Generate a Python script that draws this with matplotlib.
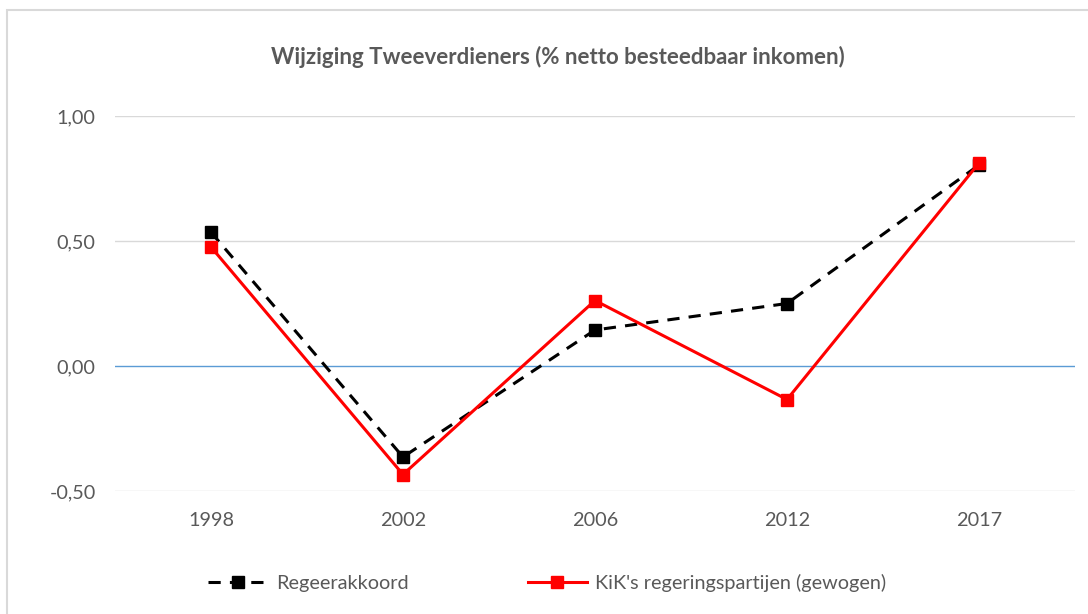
import matplotlib
matplotlib.use("Agg")
import matplotlib.pyplot as plt
from matplotlib.patches import Rectangle
from matplotlib.ticker import FuncFormatter

plt.rcParams['font.family'] = ['Lato', 'DejaVu Sans']

# data
years = ['1998', '2002', '2006', '2012', '2017']
regeerakkoord = [0.535, -0.364, 0.144, 0.250, 0.804]
kik_partijen = [0.476, -0.434, 0.262, -0.134, 0.812]
y_ticks = [-0.5, 0.0, 0.5, 1.0]

grey_text = '#595959'

fig = plt.figure(figsize=(10.88, 6.14), dpi=100)
# chart border (Excel style)
fig.patches.append(Rectangle((7 / 1088, -0.1), 1.2, 1 - 10 / 614 + 0.1,
                             transform=fig.transFigure, fill=False,
                             edgecolor='#d9d9d9', linewidth=1.5))

ax = fig.add_axes([115 / 1088, 1 - 491 / 614, 960 / 1088, 375 / 614])
x = list(range(len(years)))

ax.plot(x, regeerakkoord, color='black', linewidth=2.2, linestyle=(0, (4, 3)),
        marker='s', markersize=8.5, label='Regeerakkoord', zorder=3)
ax.plot(x, kik_partijen, color='#ff0000', linewidth=2.2,
        marker='s', markersize=8.5, label="KiK's regeringspartijen (gewogen)", zorder=4)

ax.set_xlim(-0.5, len(years) - 0.5)
ax.set_ylim(-0.5, 1.0)
ax.set_xticks(x)
ax.set_xticklabels(years)
ax.set_yticks(y_ticks)
ax.yaxis.set_major_formatter(FuncFormatter(lambda v, p: f'{v:.2f}'.replace('.', ',')))

for t in y_ticks:
    if t == 0:
        ax.axhline(t, color='#5b9bd5', linewidth=1, zorder=1)
    else:
        ax.axhline(t, color='#d9d9d9', linewidth=1, zorder=1)

for s in ax.spines.values():
    s.set_visible(False)
ax.tick_params(length=0, labelsize=14.3, colors=grey_text)
ax.tick_params(axis='y', pad=14)
ax.tick_params(axis='x', pad=15)

fig.text(0.513, 1 - 57 / 614, 'Wijziging Tweeverdieners (% netto besteedbaar inkomen)',
         ha='center', va='center', fontsize=16, fontweight='bold', color=grey_text)

leg = fig.legend(loc='center', bbox_to_anchor=(0.503, 1 - 583 / 614), ncol=2,
                 frameon=False, fontsize=14.3, handlelength=3.0, columnspacing=6,
                 handletextpad=0.4, labelcolor=grey_text)

fig.savefig('out.png', dpi=100, facecolor='white')
